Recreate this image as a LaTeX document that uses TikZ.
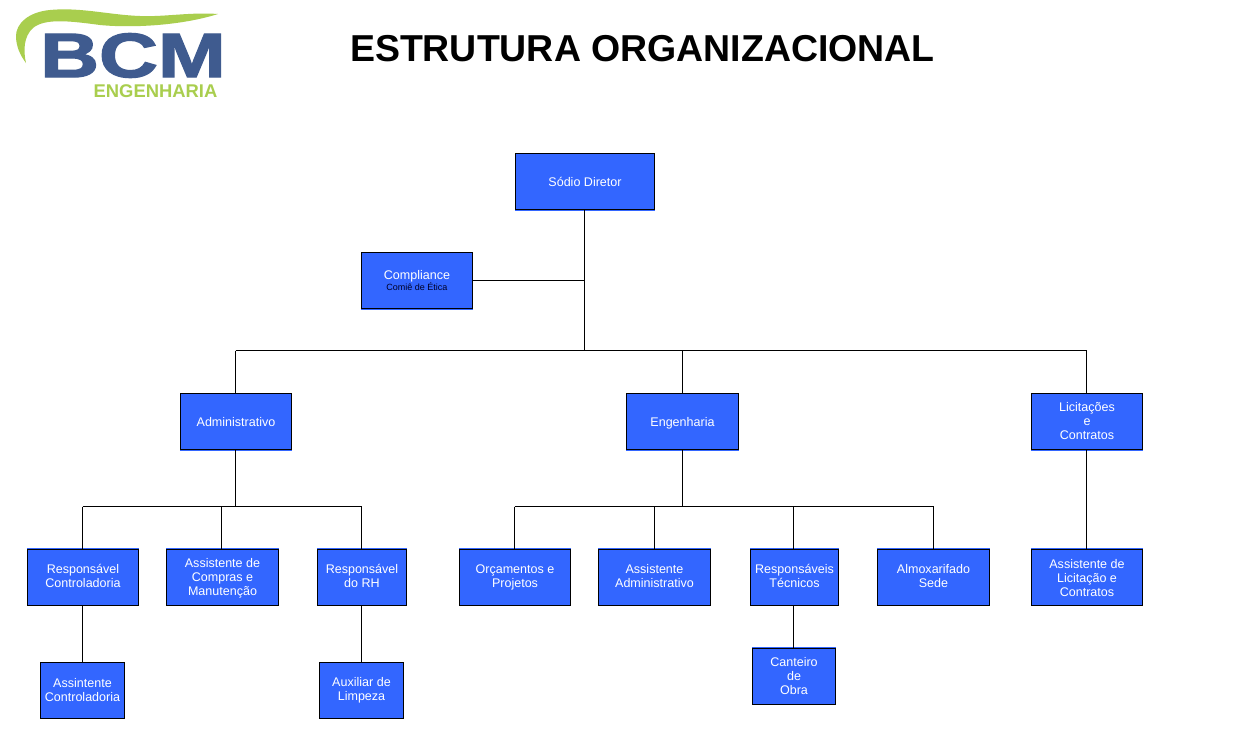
\documentclass[tikz,border=0pt]{standalone}
\usepackage{fontspec}
\setmainfont{Liberation Sans}
\newfontfamily\logofont[FakeBold=2]{Liberation Sans Bold}
\definecolor{boxblue}{HTML}{3366FF}
\definecolor{logoblue}{HTML}{3F5B8F}
\definecolor{logogreen}{HTML}{A9CE4E}
\newcommand{\upx}{\rule[-2.2pt]{0pt}{0pt}}
\newcommand{\dnx}{\rule{0pt}{8.3pt}}
\tikzset{
  orgbox/.style={draw=black,line width=0.9pt,fill=boxblue,text=white,align=center,inner sep=0pt,outer sep=0pt,
    font=\fontsize{9.4}{10.5}\selectfont,minimum height=42pt},
  pxw/.style={minimum width=#1*0.75pt},
  bleedb/.style={preaction={draw=boxblue,line width=0.75pt,transform canvas={yshift=-0.75pt}}},
  bleedt/.style={preaction={draw=boxblue,line width=0.75pt,transform canvas={yshift=0.75pt}}},
  oneline/.style={text height=8pt,text depth=0pt},
  link/.style={draw=black,line width=0.75pt},
}
\begin{document}
\begin{tikzpicture}[x=0.75pt,y=-0.75pt]
\useasboundingbox[fill=white] (0,0) rectangle (1233,732);
% logo
\fill[logogreen] (218,14) .. controls (190,12) and (165,17) .. (140,16)
  .. controls (110,15) and (80,7) .. (50,10)
  .. controls (28,12) and (16,24) .. (16,36)
  .. controls (16,46) and (20,55) .. (26,63)
  .. controls (23,50) and (24,36) .. (33,28)
  .. controls (45,18) and (70,21) .. (100,25)
  .. controls (130,28) and (180,26) .. (218,14) -- cycle;
\node[text=logoblue,xscale=1.30,inner sep=0pt] (bcm) at (133,55.5)
  {\fontsize{47}{47}\logofont BCM};
\node[text=logogreen,inner sep=0pt] (eng) at (155.5,91.5)
  {\fontsize{13.8}{14}\selectfont\bfseries ENGENHARIA};
% title
\node[inner sep=0pt] (title) at (642.5,48.5)
  {\fontsize{28.1}{30}\selectfont\bfseries ESTRUTURA ORGANIZACIONAL};
% boxes
\node[orgbox,bleedb,oneline,pxw=139] (sd) at (585,181.5) {Sódio Diretor};
\node[orgbox,bleedb,pxw=111] (comp) at (417,280.5) {Compliance\\[-2pt]{\fontsize{6.75}{8}\selectfont\color{black!85!blue} Comiê de Ética}};
\node[orgbox,bleedb,oneline,pxw=111] (adm) at (236,421.5) {Administrativo};
\node[orgbox,bleedb,oneline,pxw=112] (engb) at (682.5,421.5) {Engenharia};
\node[orgbox,bleedb,pxw=111] (lic) at (1087,421.5) {Licitações\\e\\Contratos};
\node[orgbox,bleedt,pxw=111] (rc) at (83,577.5) {Responsável\\Controladoria\upx};
\node[orgbox,bleedt,pxw=112] (ac) at (222.5,577.5) {\dnx Assistente de\\Compras e\\Manutenção};
\node[orgbox,bleedt,pxw=89] (rh) at (362,577.5) {Responsável\\do RH\upx};
\node[orgbox,bleedt,pxw=111] (orc) at (515,577.5) {Orçamentos e\\Projetos\upx};
\node[orgbox,bleedt,pxw=112] (aa) at (654.5,577.5) {Assistente\\Administrativo\upx};
\node[orgbox,bleedt,pxw=88] (rt) at (794.5,577.5) {Responsáveis\\Técnicos\upx};
\node[orgbox,bleedt,pxw=112] (alm) at (933.5,577.5) {Almoxarifado\\Sede\upx};
\node[orgbox,bleedt,pxw=111] (al) at (1087,577.5) {\dnx Assistente de\\Licitação e\\Contratos};
\node[orgbox,pxw=84] (asc) at (82.5,690.5) {Assintente\\Controladoria};
\node[orgbox,pxw=84] (aux) at (361.5,690.5) {Auxiliar de\\Limpeza};
\node[orgbox,bleedt,pxw=83] (can) at (794,676.5) {Canteiro\\de\\Obra};
% junctions on the buses
\coordinate (j0) at (584.5,350.5);
\coordinate (jadm) at (235.5,350.5);
\coordinate (jeng) at (682.5,350.5);
\coordinate (jlic) at (1086.5,350.5);
\coordinate (jcomp) at (584.5,280.5);
\coordinate (j1) at (235.5,506.5);
\coordinate (jrc) at (82.5,506.5);
\coordinate (jac) at (221.5,506.5);
\coordinate (jrh) at (361.5,506.5);
\coordinate (j2) at (682.5,506.5);
\coordinate (jorc) at (514.5,506.5);
\coordinate (jaa) at (654.5,506.5);
\coordinate (jrt) at (793.5,506.5);
\coordinate (jalm) at (933.5,506.5);
% connectors
\draw[link] (j0 |- sd.south) -- (j0);
\draw[link] (comp.east) -- (jcomp);
\draw[link] (jadm) -- (jlic);
\draw[link] (jadm) -- (jadm |- adm.north);
\draw[link] (jeng) -- (jeng |- engb.north);
\draw[link] (jlic) -- (jlic |- lic.north);
\draw[link] (j1 |- adm.south) -- (j1);
\draw[link] (jrc) -- (jrh);
\draw[link] (jrc) -- (jrc |- rc.north);
\draw[link] (jac) -- (jac |- ac.north);
\draw[link] (jrh) -- (jrh |- rh.north);
\draw[link] (j2 |- engb.south) -- (j2);
\draw[link] (jorc) -- (jalm);
\draw[link] (jorc) -- (jorc |- orc.north);
\draw[link] (jaa) -- (jaa |- aa.north);
\draw[link] (jrt) -- (jrt |- rt.north);
\draw[link] (jalm) -- (jalm |- alm.north);
\draw[link] (jlic |- lic.south) -- (jlic |- al.north);
\draw[link] (jrc |- rc.south) -- (jrc |- asc.north);
\draw[link] (jrh |- rh.south) -- (jrh |- aux.north);
\draw[link] (jrt |- rt.south) -- (jrt |- can.north);
\end{tikzpicture}
\end{document}
